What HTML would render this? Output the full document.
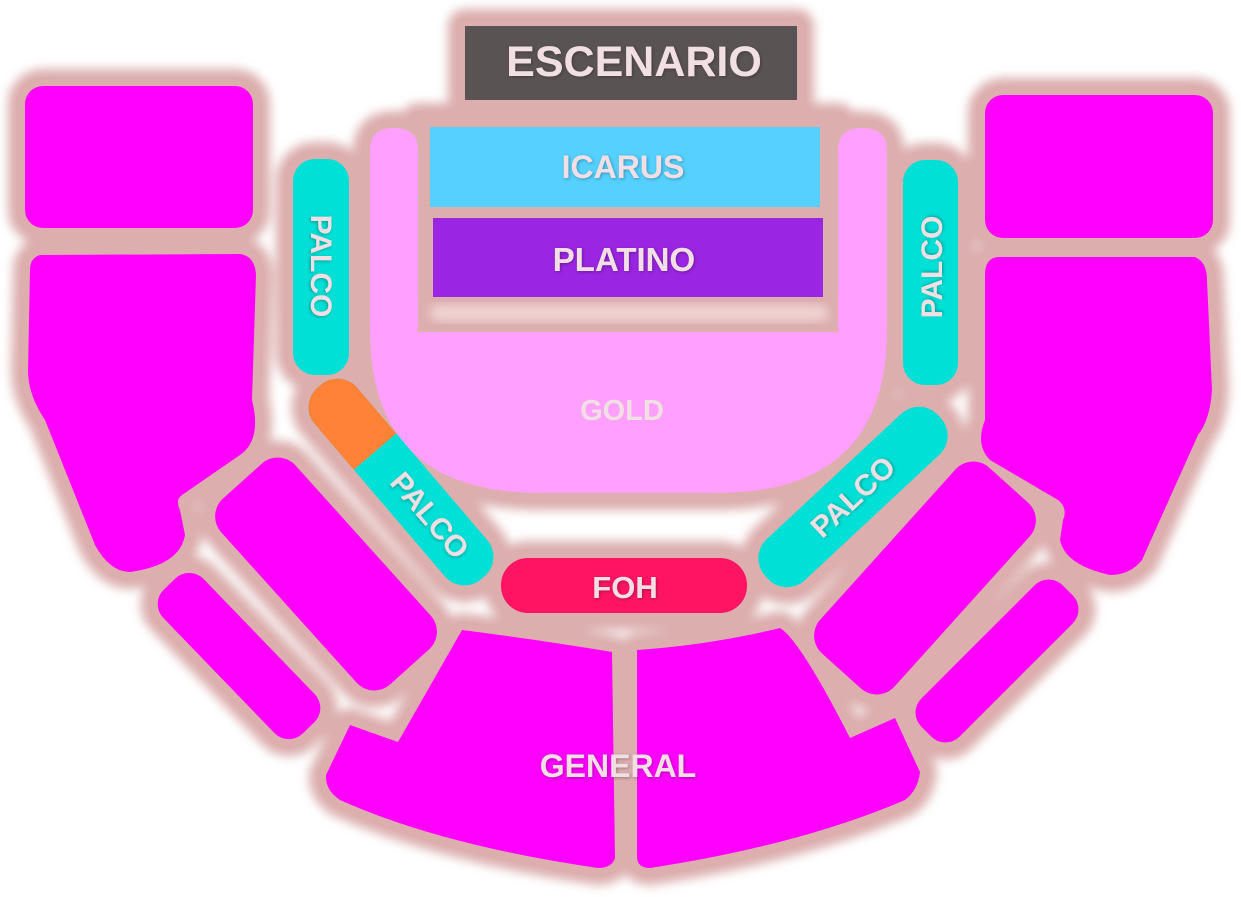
<!DOCTYPE html>
<html><head><meta charset="utf-8"><style>
html,body{margin:0;padding:0;background:#fff;width:1241px;height:897px;overflow:hidden}
svg{display:block}
text{font-family:"Liberation Sans",sans-serif;font-weight:bold;fill:#f1dfe3}
</style></head><body>
<svg width="1241" height="897" viewBox="0 0 1241 897" xmlns="http://www.w3.org/2000/svg">
<defs>
<filter id="b" x="-20%" y="-20%" width="140%" height="140%"><feGaussianBlur stdDeviation="5"/></filter>
<filter id="ts" x="-20%" y="-20%" width="140%" height="140%"><feDropShadow dx="1" dy="1" stdDeviation="1.5" flood-color="#000" flood-opacity="0.3"/></filter>
<g id="shapes">
<rect x="465" y="26" width="332" height="74"/>
<path d="M370,150 Q370,128 394,128 Q418,128 418,150 L418,120 L838,120 L838,150 Q838,128 862,128 Q887,128 887,150 L887,330 Q887,493 717,493 L540,493 Q370,493 370,330 Z"/>
<rect x="293" y="159" width="56" height="216" rx="22"/>
<rect x="903" y="160" width="55" height="225" rx="22"/>
<rect x="-126" y="-28" width="252" height="56" rx="26" transform="translate(401,482) rotate(49.5)"/>
<rect x="-118" y="-28" width="236" height="56" rx="26" transform="translate(853,497) rotate(-43)"/>
<rect x="501" y="558" width="246" height="55" rx="27"/>
<rect x="25" y="86" width="228" height="142" rx="18"/>
<rect x="985" y="95" width="228" height="143" rx="18"/>
<path d="M40,255 L240,254 Q255,256 256,275 L252,400 Q262,440 240,455 L182,495 Q175,500 180,510 L185,535 Q180,565 130,572 Q110,572 95,545 L45,420 Q28,395 28,370 L30,270 Q30,258 40,255 Z"/>
<path d="M998,257 L1195,257 Q1207,262 1207,280 L1212,390 Q1210,420 1198,435 L1142,560 Q1130,575 1110,575 Q1065,565 1060,540 L1063,520 Q1068,508 1058,500 L990,460 Q975,445 985,420 L985,275 Q985,258 998,257 Z"/>
<rect x="-125" y="-50" width="250" height="100" rx="24" transform="translate(326,574) rotate(48)"/>
<rect x="-100" y="-28" width="200" height="56" rx="20" transform="translate(239,656) rotate(46)"/>
<rect x="-125" y="-50" width="250" height="100" rx="24" transform="translate(925,578) rotate(-48)"/>
<rect x="-100" y="-27" width="200" height="54" rx="20" transform="translate(997,661) rotate(-45)"/>
<path d="M462,630 Q540,640 612,652 L615,858 Q612,868 598,868 Q440,845 340,800 Q325,790 326,775 L350,725 L398,742 Z"/>
<path d="M637,650 Q710,645 780,628 Q800,640 850,738 L895,718 L920,772 Q918,790 905,800 Q800,845 650,868 Q638,868 637,858 Z"/>
</g>
<clipPath id="lp"><rect x="-126" y="-28" width="252" height="56" rx="26"/></clipPath>
</defs>
<g fill="#dcaeae" stroke="#dcaeae" stroke-width="34" stroke-linejoin="round" filter="url(#b)"><use href="#shapes"/></g>
<g fill="#dcaeae" stroke="#dcaeae" stroke-width="18" stroke-linejoin="round"><use href="#shapes"/></g>
<rect x="465" y="26" width="332" height="74" fill="#5a5353"/>
<text x="634" y="76" font-size="43" text-anchor="middle" filter="url(#ts)">ESCENARIO</text>
<path d="M370,150 Q370,128 394,128 Q418,128 418,150 L418,332 L838,332 L838,150 Q838,128 862,128 Q887,128 887,150 L887,330 Q887,493 717,493 L540,493 Q370,493 370,330 Z" fill="#ffa0fe"/>
<rect x="430" y="127" width="390" height="80" fill="#55d0ff"/>
<rect x="433" y="218" width="390" height="79" fill="#9a25e2"/>
<rect x="430" y="305" width="398" height="16" rx="8" fill="#f0d4d4" filter="url(#b)"/>
<text x="623" y="178" font-size="32" text-anchor="middle" filter="url(#ts)">ICARUS</text>
<text x="624" y="271" font-size="33" text-anchor="middle" filter="url(#ts)">PLATINO</text>
<text x="622" y="420" font-size="29" text-anchor="middle" fill="#f0d4e6">GOLD</text>
<rect x="293" y="159" width="56" height="216" rx="22" fill="#00e0d6"/>
<text transform="translate(311,266) rotate(90)" font-size="30" text-anchor="middle" filter="url(#ts)">PALCO</text>
<rect x="903" y="160" width="55" height="225" rx="22" fill="#00e0d6"/>
<text transform="translate(942,267) rotate(-90)" font-size="30" text-anchor="middle" filter="url(#ts)">PALCO</text>
<g transform="translate(401,482) rotate(49.5)">
<g clip-path="url(#lp)"><rect x="-126" y="-28" width="252" height="56" fill="#00e0d6"/><rect x="-126" y="-28" width="86" height="56" fill="#ff8236"/></g>
<text x="44" y="10" font-size="30" text-anchor="middle" filter="url(#ts)">PALCO</text>
</g>
<g transform="translate(853,497) rotate(-43)">
<rect x="-118" y="-28" width="236" height="56" rx="26" fill="#00e0d6"/>
<text x="0" y="10" font-size="30" text-anchor="middle" filter="url(#ts)">PALCO</text>
</g>
<rect x="501" y="558" width="246" height="55" rx="27" fill="#ff1464"/>
<text x="625" y="598" font-size="31" text-anchor="middle" filter="url(#ts)">FOH</text>
<g fill="#ff00fe">
<rect x="25" y="86" width="228" height="142" rx="18"/>
<rect x="985" y="95" width="228" height="143" rx="18"/>
<path d="M40,255 L240,254 Q255,256 256,275 L252,400 Q262,440 240,455 L182,495 Q175,500 180,510 L185,535 Q180,565 130,572 Q110,572 95,545 L45,420 Q28,395 28,370 L30,270 Q30,258 40,255 Z"/>
<path d="M998,257 L1195,257 Q1207,262 1207,280 L1212,390 Q1210,420 1198,435 L1142,560 Q1130,575 1110,575 Q1065,565 1060,540 L1063,520 Q1068,508 1058,500 L990,460 Q975,445 985,420 L985,275 Q985,258 998,257 Z"/>
<rect x="-125" y="-50" width="250" height="100" rx="24" transform="translate(326,574) rotate(48)"/>
<rect x="-100" y="-28" width="200" height="56" rx="20" transform="translate(239,656) rotate(46)"/>
<rect x="-125" y="-50" width="250" height="100" rx="24" transform="translate(925,578) rotate(-48)"/>
<rect x="-100" y="-27" width="200" height="54" rx="20" transform="translate(997,661) rotate(-45)"/>
<path d="M462,630 Q540,640 612,652 L615,858 Q612,868 598,868 Q440,845 340,800 Q325,790 326,775 L350,725 L398,742 Z"/>
<path d="M637,650 Q710,645 780,628 Q800,640 850,738 L895,718 L920,772 Q918,790 905,800 Q800,845 650,868 Q638,868 637,858 Z"/>
</g>
<text x="618" y="777" font-size="32" text-anchor="middle" filter="url(#ts)">GENERAL</text>
</svg>
</body></html>
